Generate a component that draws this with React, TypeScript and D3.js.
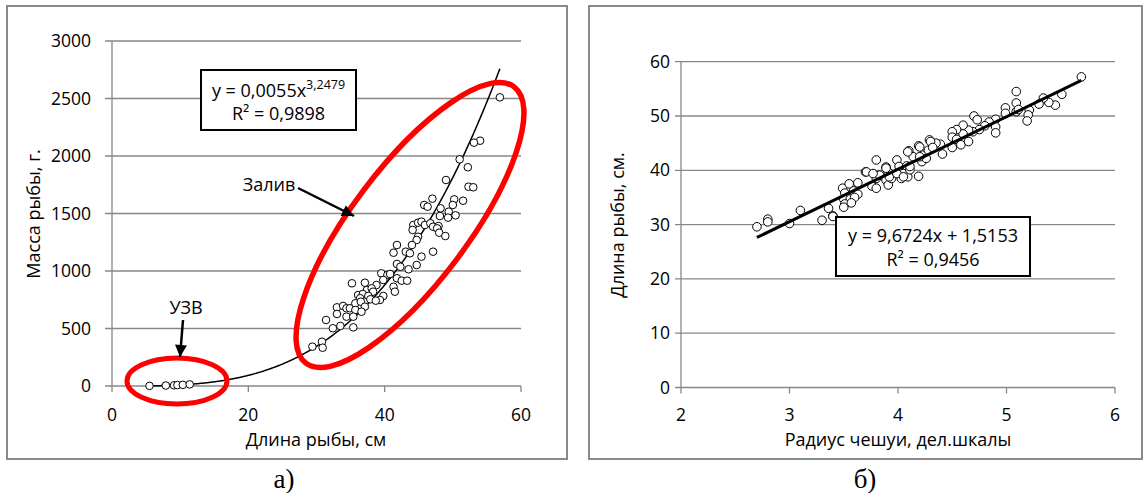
import React from "react";
import * as d3 from "d3";

// Panel a: fish length (cm) vs. fish mass (g)
const lengthA = [
  5.5, 7.9, 9.1, 9.6, 10.4, 11.4,
  56.9, 54.0, 53.1, 51.0, 52.2, 49.0, 52.3, 53.0, 47.0, 50.2, 51.5, 45.8, 46.3, 50.0,
  48.2, 49.4, 50.4, 48.1, 49.3, 44.2, 44.9, 45.4, 45.9, 46.7, 47.1, 47.9,
  47.7, 48.0, 48.9, 44.1, 44.9, 44.7, 41.8, 44.0, 47.1, 41.3, 43.1, 43.7, 45.4, 41.8,
  44.7, 42.3, 43.5, 39.5, 40.4, 40.8, 35.2, 37.1, 39.8, 41.8, 42.5, 43.3, 41.3, 38.8,
  37.4, 38.1, 38.3, 41.5, 36.1, 36.8, 36.4, 37.6, 37.9, 39.8, 39.3, 38.7, 33.0, 33.9,
  34.4, 34.9, 35.7, 36.5, 35.7, 37.1, 36.6, 33.0, 34.4, 35.4, 31.4, 33.5, 32.4, 35.4,
  29.4, 30.8, 30.9,
];
const massA = [
  1, 4, 6, 8, 10, 14,
  2510, 2133, 2116, 1971, 1902, 1791, 1733, 1728, 1629, 1623, 1611, 1574, 1559, 1574,
  1545, 1516, 1484, 1478, 1464, 1400, 1420, 1429, 1400, 1415, 1385, 1391,
  1371, 1333, 1304, 1357, 1298, 1270, 1226, 1226, 1168, 1159, 1168, 1154, 1125, 1061,
  1052, 1037, 1015, 980, 965, 974, 893, 898, 922, 937, 916, 916, 863, 878,
  835, 849, 820, 820, 791, 800, 763, 783, 754, 783, 748, 742, 684, 696,
  676, 676, 719, 733, 661, 690, 646, 626, 603, 603, 574, 522, 502, 510,
  342, 385, 333,
];
const ticksXA = [0, 20, 40, 60];
const ticksYA = [0, 500, 1000, 1500, 2000, 2500, 3000];
const powerCoef = 0.0055;
const powerExp = 3.2479;

// Panel б: scale radius vs. fish length (cm)
const radiusB = [
  2.7, 2.8, 2.8, 3.0, 3.1, 3.3, 3.36, 3.4, 3.49, 3.55, 3.63, 3.51, 3.59, 3.63, 3.5, 3.56,
  3.6, 3.51, 3.57, 3.5, 3.7, 3.8, 3.76, 3.8, 3.8, 3.83, 3.89, 3.91, 3.89, 3.91, 3.94,
  3.99, 4.01, 4.05, 4.03, 4.09, 4.08, 4.11, 4.1, 4.14, 4.19, 4.19, 4.22, 4.23, 4.26,
  4.28, 4.29, 5.69, 5.51, 5.45, 5.39, 5.34, 5.3, 5.21, 5.2, 5.19, 5.09, 5.09, 5.09,
  5.11, 4.99, 4.99, 4.9, 4.9, 4.9, 4.84, 4.8, 4.75, 4.7, 4.73, 4.69, 4.65, 4.6, 4.6,
  4.54, 4.5, 4.5, 4.54, 4.58, 4.65, 4.5, 4.41, 4.39, 4.35, 4.3, 4.32, 3.71, 3.77,
  3.89, 3.92, 3.99, 4.05, 4.09, 4.11, 4.2, 4.2, 3.4,
];
const lengthB = [
  29.6, 31.0, 30.5, 30.2, 32.6, 30.8, 33.0, 31.6, 36.7, 37.5, 37.7, 35.8, 36.2, 35.6, 34.7, 34.7,
  35.0, 33.8, 34.0, 33.2, 39.7, 41.9, 37.1, 36.7, 38.5, 39.1, 40.6, 39.7, 38.2, 37.3, 38.5,
  41.9, 40.7, 39.4, 38.5, 38.8, 40.8, 40.1, 43.6, 42.5, 44.5, 38.9, 41.6, 42.8, 42.2,
  43.7, 45.6, 57.2, 54.0, 52.0, 52.5, 53.3, 52.2, 51.1, 50.2, 49.1, 54.5, 52.4, 50.8,
  51.2, 51.5, 50.5, 49.4, 48.0, 46.9, 48.9, 48.2, 47.5, 50.0, 49.3, 47.1, 47.4, 48.3, 46.7,
  47.5, 47.1, 46.1, 45.7, 44.7, 45.3, 44.2, 43.0, 44.8, 45.0, 45.3, 44.2, 39.7, 39.4,
  40.4, 38.8, 39.4, 38.8, 43.4, 40.7, 44.3, 42.5, 31.5,
];
const ticksXB = [2, 3, 4, 5, 6];
const ticksYB = [0, 10, 20, 30, 40, 50, 60];
const linSlope = 9.6724;
const linIntercept = 1.5153;

const FONT = "'Open Sans', sans-serif";
const GRID = "#878787";
const TICK_FS = 17.5;
const TEXT_FS = 18;

export default function App() {
  const xA = d3.scaleLinear().domain([0, 60]).range([112, 521]);
  const yA = d3.scaleLinear().domain([0, 3000]).range([386, 41]);
  const xB = d3.scaleLinear().domain([2, 6]).range([681, 1115]);
  const yB = d3.scaleLinear().domain([0, 60]).range([387.5, 61.7]);

  const [minA, maxA] = d3.extent(lengthA) as [number, number];
  const curveXs = d3.range(minA, maxA + 0.001, 0.2);
  const powerPath = d3
    .line<number>()
    .x((v) => xA(v))
    .y((v) => yA(powerCoef * Math.pow(v, powerExp)))
    .curve(d3.curveMonotoneX)(curveXs);

  const [minB, maxB] = d3.extent(radiusB) as [number, number];

  const ptsA = lengthA.map((v, i) => [v, massA[i]]);
  const ptsB = radiusB.map((v, i) => [v, lengthB[i]]);

  return (
    <svg
      width={1144}
      height={493}
      style={{ position: "absolute", left: 0, top: 0, background: "#fff" }}
      fontFamily={FONT}
    >
      <defs>
        <marker id="arrowHead" viewBox="0 0 10 10" refX="10" refY="5" markerWidth="16" markerHeight="12" markerUnits="userSpaceOnUse" orient="auto">
          <path d="M0,0 L10,5 L0,10 z" fill="#000" />
        </marker>
      </defs>

      {/* ---------- Panel a ---------- */}
      <rect x={7} y={6} width={560} height={453} fill="#fff" stroke="#898989" strokeWidth={2} />
      {ticksYA.map((t) => (
        <g key={"ga" + t}>
          <line x1={105} x2={xA(60)} y1={yA(t)} y2={yA(t)} stroke={GRID} strokeWidth={1.3} />
          <text x={91} y={yA(t)} dy="0.35em" textAnchor="end" fontSize={TICK_FS} fill="#000">{t}</text>
        </g>
      ))}
      <line x1={xA(0)} x2={xA(0)} y1={yA(3000)} y2={yA(0)} stroke={GRID} strokeWidth={1.3} />
      {ticksXA.map((t) => (
        <g key={"xa" + t}>
          <line x1={xA(t)} x2={xA(t)} y1={yA(0)} y2={yA(0) + 6} stroke={GRID} strokeWidth={1.3} />
          <text x={xA(t)} y={415} dy="0.35em" textAnchor="middle" fontSize={TICK_FS} fill="#000">{t}</text>
        </g>
      ))}
      <text x={316} y={440} dy="0.35em" textAnchor="middle" fontSize={TEXT_FS}>Длина рыбы, см</text>
      <text transform={`translate(34,214) rotate(-90)`} dy="0.35em" textAnchor="middle" fontSize={TEXT_FS}>Масса рыбы, г.</text>

      {powerPath && <path d={powerPath} fill="none" stroke="#000" strokeWidth={1.5} />}
      {ptsA.map(([x, y], i) => (
        <circle key={"pa" + i} cx={xA(x)} cy={yA(y)} r={3.8} fill="#fff" stroke="#000" strokeWidth={1} />
      ))}

      {/* highlighted groups */}
      <ellipse cx={177} cy={381} rx={50} ry={23} fill="none" stroke="#ff0000" strokeWidth={5} />
      <ellipse cx={410} cy={225} rx={173} ry={58} transform="rotate(-53 410 225)" fill="none" stroke="#ff0000" strokeWidth={5.5} />

      <text x={186} y={308} dy="0.35em" textAnchor="middle" fontSize={TEXT_FS}>УЗВ</text>
      <line x1={183} y1={320} x2={180} y2={357} stroke="#000" strokeWidth={2.5} markerEnd="url(#arrowHead)" />
      <text x={269} y={185} dy="0.35em" textAnchor="middle" fontSize={TEXT_FS}>Залив</text>
      <line x1={298} y1={188} x2={354} y2={216} stroke="#000" strokeWidth={2.5} markerEnd="url(#arrowHead)" />

      <rect x={201} y={70} width={155} height={60} fill="#fff" stroke="#000" strokeWidth={2} />
      <text x={278.5} y={97} textAnchor="middle" fontSize={TEXT_FS}>
        y = 0,0055x<tspan fontSize={12.5} dy={-8}>3,2479</tspan>
      </text>
      <text x={278.5} y={120} textAnchor="middle" fontSize={TEXT_FS}>R² = 0,9898</text>

      <text x={284} y={488} textAnchor="middle" fontSize={27} fontFamily="'Liberation Serif', serif">а)</text>

      {/* ---------- Panel б ---------- */}
      <rect x={589} y={6} width={553} height={453} fill="#fff" stroke="#898989" strokeWidth={2} />
      {ticksYB.map((t) => (
        <g key={"gb" + t}>
          <line x1={675} x2={xB(6)} y1={yB(t)} y2={yB(t)} stroke={GRID} strokeWidth={1.3} />
          <text x={670} y={yB(t)} dy="0.35em" textAnchor="end" fontSize={TICK_FS} fill="#000">{t}</text>
        </g>
      ))}
      <line x1={xB(2)} x2={xB(2)} y1={yB(60)} y2={yB(0)} stroke={GRID} strokeWidth={1.3} />
      {ticksXB.map((t) => (
        <g key={"xb" + t}>
          <line x1={xB(t)} x2={xB(t)} y1={yB(0)} y2={yB(0) + 6} stroke={GRID} strokeWidth={1.3} />
          <text x={xB(t)} y={415} dy="0.35em" textAnchor="middle" fontSize={TICK_FS} fill="#000">{t}</text>
        </g>
      ))}
      <text x={898} y={440} dy="0.35em" textAnchor="middle" fontSize={TEXT_FS}>Радиус чешуи, дел.шкалы</text>
      <text transform={`translate(618,225) rotate(-90)`} dy="0.35em" textAnchor="middle" fontSize={TEXT_FS}>Длина рыбы, см.</text>

      {ptsB.map(([x, y], i) => (
        <circle key={"pb" + i} cx={xB(x)} cy={yB(y)} r={4.3} fill="#fff" stroke="#000" strokeWidth={1} />
      ))}
      <line
        x1={xB(minB)}
        y1={yB(linSlope * minB + linIntercept)}
        x2={xB(maxB)}
        y2={yB(linSlope * maxB + linIntercept)}
        stroke="#000"
        strokeWidth={3}
      />

      <rect x={836} y={217} width={194} height={59} fill="#fff" stroke="#000" strokeWidth={2} />
      <text x={933} y={242} textAnchor="middle" fontSize={TEXT_FS}>y = 9,6724x + 1,5153</text>
      <text x={933} y={266} textAnchor="middle" fontSize={TEXT_FS}>R² = 0,9456</text>

      <text x={865} y={488} textAnchor="middle" fontSize={27} fontFamily="'Liberation Serif', serif">б)</text>
    </svg>
  );
}
